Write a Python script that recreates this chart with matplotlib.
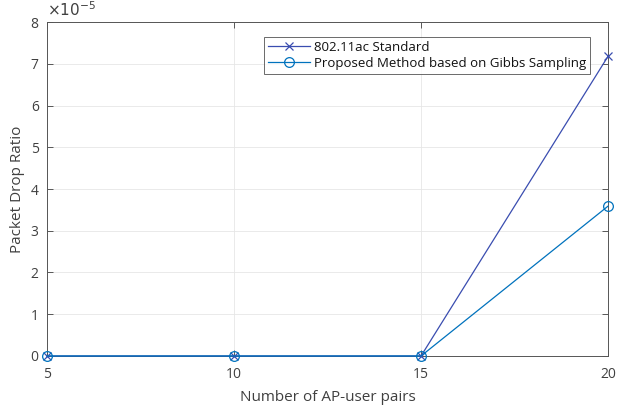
import matplotlib
matplotlib.use("Agg")
import matplotlib.pyplot as plt

plt.rcParams['font.family'] = ['Open Sans', 'DejaVu Sans']

pairs = [5, 10, 15, 20]
standard = [0.0, 0.0, 0.0, 7.18e-5]
gibbs = [0.0, 0.0, 0.0, 3.59e-5]

txt = '#404040'
fig = plt.figure(figsize=(6.29, 4.08), dpi=100)
ax = fig.add_axes([0.0747, 0.1275, 0.892, 0.8185])

ax.plot(pairs, standard, color='#3A4DB0', lw=0.9, marker='x', ms=6, mew=0.9,
        label='802.11ac Standard', clip_on=False, zorder=3)
ax.plot(pairs, gibbs, color='#0072BD', lw=0.9, marker='o', ms=7, mfc='none', mew=0.9,
        label='Proposed Method based on Gibbs Sampling', clip_on=False, zorder=3)

ax.set_xlim(5, 20)
ax.set_ylim(0, 8e-5)
ax.set_xticks(pairs)
ax.set_yticks([i * 1e-5 for i in range(9)])
ax.set_yticklabels([str(i) for i in range(9)])
ax.grid(True, color='#e6e6e6', lw=0.6)
ax.set_axisbelow(True)
for s in ax.spines.values():
    s.set_color('#555555')
    s.set_linewidth(0.7)
ax.tick_params(colors=txt, labelsize=10, direction='in', length=4, width=0.6,
               right=True, top=True)
ax.tick_params(axis='x', pad=8)
ax.tick_params(axis='y', pad=6)
ax.set_xlabel('Number of AP-user pairs', color=txt, fontsize=11, labelpad=6)
ax.set_ylabel('Packet Drop Ratio', color=txt, fontsize=11)
ax.text(0, 1.005, r'$\times10^{-5}$', transform=ax.transAxes, color=txt, fontsize=11,
        ha='left', va='bottom')

leg = ax.legend(loc='upper right', bbox_to_anchor=(0.968, 0.955), fontsize=9.5,
                frameon=True, fancybox=False, borderpad=0.3, labelspacing=0.2,
                handlelength=3.2, handletextpad=0.3, borderaxespad=0)
leg.get_frame().set_edgecolor('#444444')
leg.get_frame().set_linewidth(0.7)
for t in leg.get_texts():
    t.set_color('#111111')

fig.savefig('out.png', dpi=100)
